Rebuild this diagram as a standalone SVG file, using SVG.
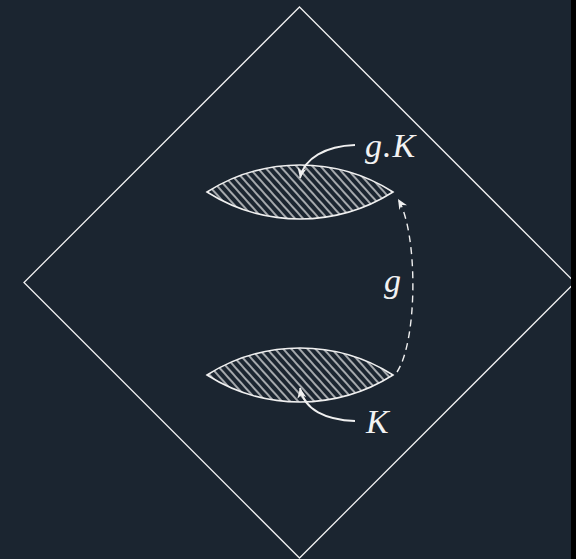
<svg xmlns="http://www.w3.org/2000/svg" width="576" height="559" viewBox="0 0 576 559">
  <style>
    .ln { fill: none; stroke: #f0f0f0; stroke-width: 1.3; }
    .lens { fill: url(#hatch); stroke: #f0f0f0; stroke-width: 1.5; }
    .lbl { font-family: "Liberation Serif", "DejaVu Serif", serif; font-style: italic; font-size: 34px; fill: #f2f2f2; }
  </style>
  <defs>
    <pattern id="hatch" patternUnits="userSpaceOnUse" width="6" height="10" patternTransform="rotate(-42)">
      <line x1="1" y1="-1" x2="1" y2="11" stroke="#f0f0f0" stroke-width="1.3"/>
    </pattern>
    <marker id="arr" viewBox="-10 -5 12 10" markerWidth="12" markerHeight="10" refX="0" refY="0" orient="auto" markerUnits="userSpaceOnUse">
      <path d="M0,0 L-10,-4.5 L-7,0 L-10,4.5 Z" fill="#f0f0f0"/>
    </marker>
  </defs>
  <rect x="0" y="0" width="576" height="559" fill="#1b2530"/>
  <g id="diamond">
    <path class="ln" d="M299.5,7 L575,282.5 L299.5,558 L24,282.5 Z"/>
  </g>
  <rect x="571" y="0" width="5" height="559" fill="#000"/>
  <g id="lens-gK">
    <path class="lens" d="M207,192 A174,174 0 0 1 393,192 A174,174 0 0 1 207,192 Z"/>
  </g>
  <g id="lens-K">
    <path class="lens" d="M207,375 A174,174 0 0 1 393,375 A174,174 0 0 1 207,375 Z"/>
  </g>
  <g id="connectors">
    <path class="ln" d="M355,145 C326,146 304,158 300,178" marker-end="url(#arr)" style="stroke-width:1.8"/>
    <path class="ln" d="M355,421 C326,420 304,410 300,388" marker-end="url(#arr)" style="stroke-width:1.8"/>
    <path class="ln" d="M397,372 C418,340 418,232 398,199" marker-end="url(#arr)" style="stroke-width:1.4;stroke-dasharray:7,5"/>
  </g>
  <g id="labels">
    <text class="lbl" x="365" y="157" letter-spacing="1">g.K</text>
    <text class="lbl" x="366" y="433">K</text>
    <text class="lbl" x="384" y="292">g</text>
  </g>
</svg>
